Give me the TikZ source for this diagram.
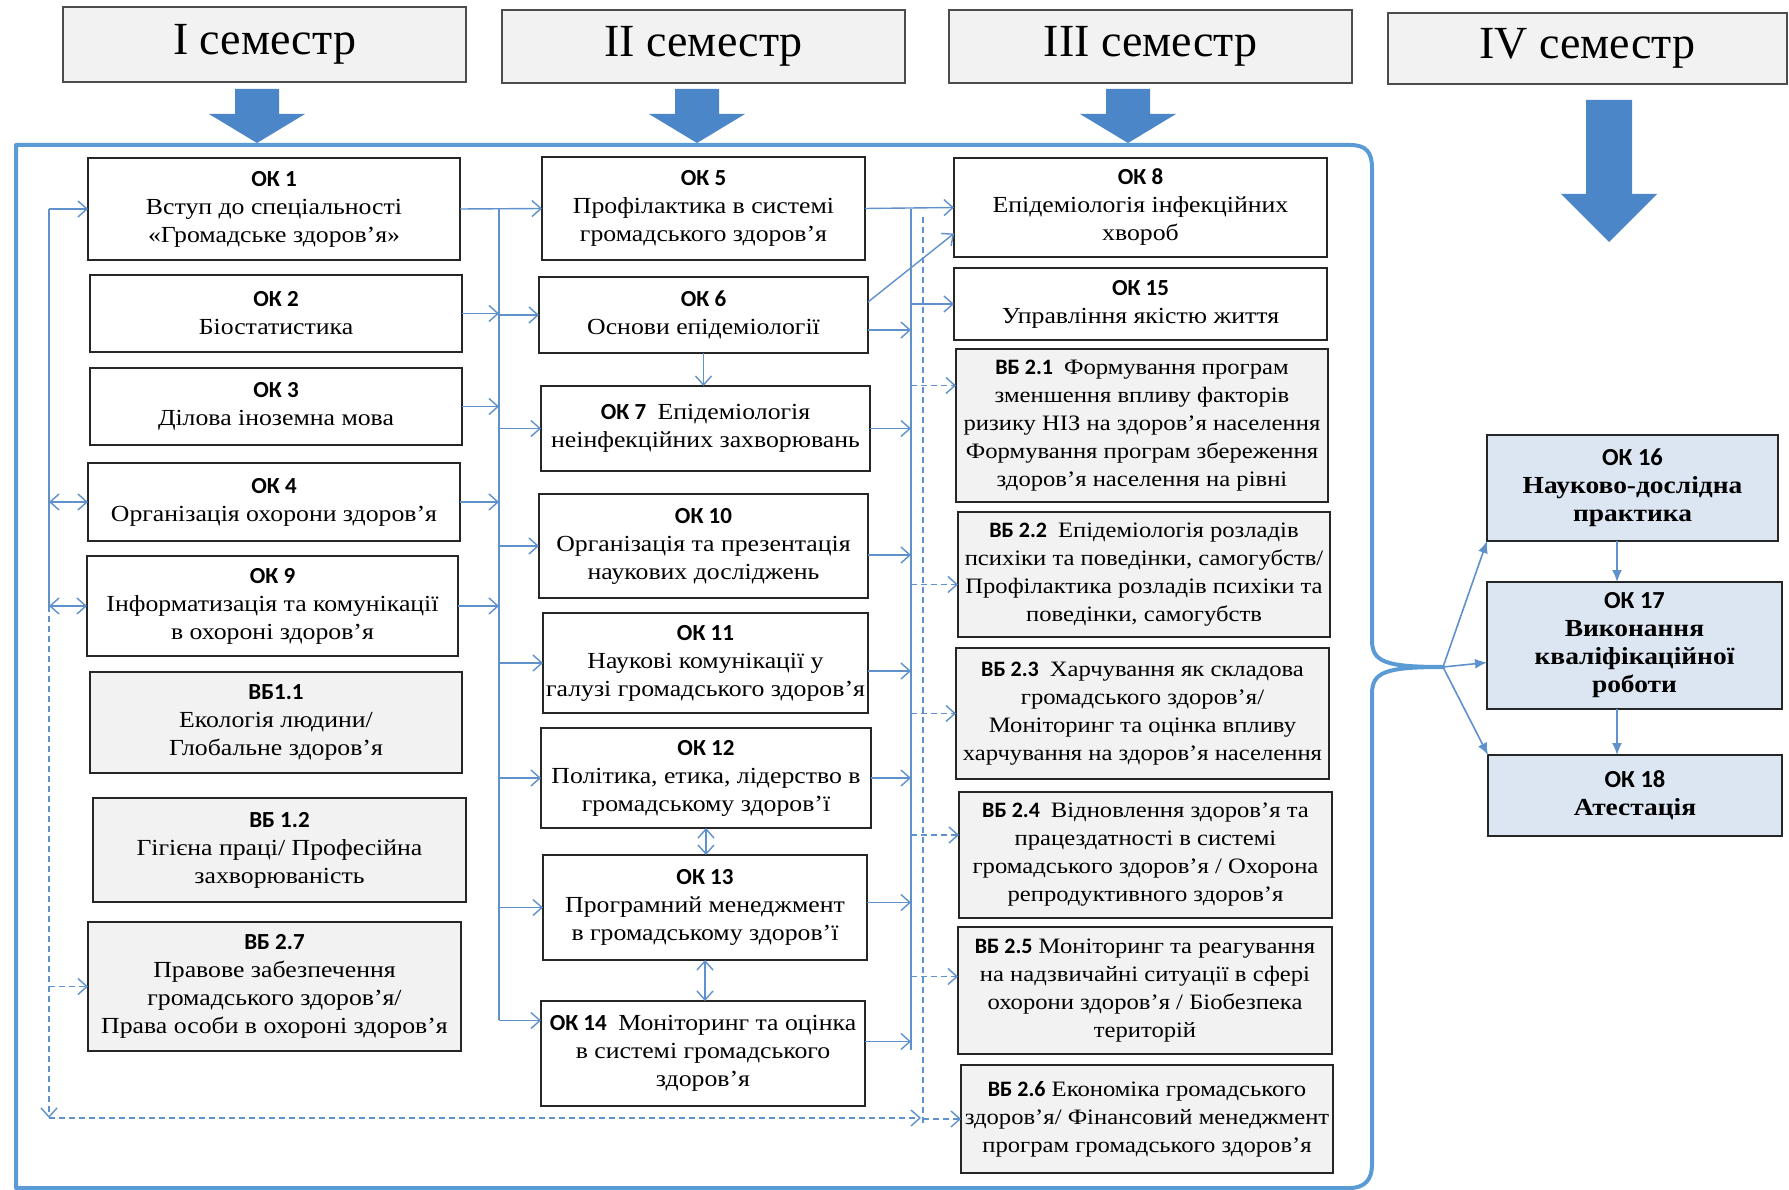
\documentclass[tikz,border=0pt]{standalone}
\usepackage{fontspec}
\setmainfont[FakeStretch=1.12]{Liberation Serif}
\newfontfamily\hdrfont{Liberation Serif}
\newfontfamily\lblfont{Carlito}
\usetikzlibrary{arrows.meta}
\definecolor{conn}{RGB}{95,145,205}
\definecolor{blk}{RGB}{74,134,200}
\definecolor{framec}{RGB}{91,155,213}
\definecolor{vbfill}{RGB}{242,242,242}
\definecolor{bluefill}{RGB}{220,230,242}
\definecolor{hdrfill}{RGB}{242,242,242}
\newcommand\lb[1]{{\lblfont\bfseries #1}}
\newcommand\bx[7]{\node[#1, minimum width={(#4-#2)*1pt}, minimum height={(#5-#3)*1pt}] (#6) at (#2,#3) {#7};}
\newcommand\barr[6]{\fill[blk] ({#1-#5},#2) -- ({#1+#5},#2) -- ({#1+#5},#3) -- ({#1+#6},#3) -- (#1,#4) -- ({#1-#6},#3) -- ({#1-#5},#3) -- cycle;}
\begin{document}
\begin{tikzpicture}[x=1pt,y=-1pt,
  box/.style={draw=black!85, line width=1.6pt, inner sep=0pt, outer sep=0pt, align=center, font=\fontsize{23}{28}\selectfont, anchor=north west},
  okbox/.style={box, fill=white},
  vbbox/.style={box, fill=vbfill},
  vbbox3/.style={box, fill=vbfill, font=\fontsize{22}{28}\selectfont},
  rbox/.style={box, fill=bluefill, font=\fontsize{24.5}{28}\selectfont\bfseries},
  hdr/.style={draw=black!70, line width=1.2pt, fill=hdrfill, inner sep=0pt, outer sep=0pt, anchor=north west, font=\hdrfont\fontsize{46}{50}\selectfont},
  cn/.style={draw=conn, line width=1.4pt},
  arr/.style={cn, -{Straight Barb[length=9pt,width=16pt]}},
  darr/.style={arr, dash pattern=on 6pt off 4pt},
  dln/.style={cn, dash pattern=on 6pt off 4pt},
  barr2/.style={cn, {Straight Barb[length=9pt,width=16pt]}-{Straight Barb[length=9pt,width=16pt]}},
  rarr/.style={draw=conn, line width=1.6pt, -{Latex[length=12pt,width=10pt]}}
]
\useasboundingbox (0,0) rectangle (1789,1190);
\fill[white] (0,0) rectangle (1789,1190);

% headers
\bx{hdr}{63}{7}{466}{82}{H1}{I семестр}
\bx{hdr}{502}{10}{905}{83}{H2}{II семестр}
\bx{hdr}{949}{10}{1352}{83}{H3}{III семестр}
\bx{hdr}{1388}{13}{1787}{84}{H4}{IV семестр}

% block arrows
\barr{257}{89}{114}{143}{22}{48}
\barr{697}{89}{114}{143}{22}{48}
\barr{1128}{89}{114}{143}{22}{48}
\barr{1609}{100}{194}{242}{23}{48}

% container with brace
\draw[draw=framec, line width=4pt, line join=round]
  (16,145) -- (1350,145) .. controls (1366,145) and (1372,152) .. (1372,168)
  -- (1372,640) .. controls (1372,662) and (1385,667) .. (1443,667)
  .. controls (1385,667) and (1372,672) .. (1372,694)
  -- (1372,1165) .. controls (1372,1180) and (1364,1188) .. (1350,1188)
  -- (16,1188) -- cycle;
\coordinate (bt) at (1443,667);

% column 1
\bx{okbox}{88}{158}{460}{260}{OK1}{\lb{ОК 1}\\Вступ до спеціальності\\«Громадське здоров’я»}
\bx{okbox}{90}{275}{462}{352}{OK2}{\lb{ОК 2}\\Біостатистика}
\bx{okbox}{90}{368}{462}{445}{OK3}{\lb{ОК 3}\\Ділова іноземна мова}
\bx{okbox}{88}{463}{460}{541}{OK4}{\lb{ОК 4}\\Організація охорони здоров’я}
\bx{okbox}{87}{556}{458}{656}{OK9}{\lb{ОК 9}\\Інформатизація та комунікації\\в охороні здоров’я}
\bx{vbbox}{90}{672}{462}{773}{VB11}{\lb{ВБ1.1}\\Екологія людини/\\Глобальне здоров’я}
\bx{vbbox}{93}{798}{466}{902}{VB12}{\lb{ВБ 1.2}\\Гігієна праці/ Професійна\\захворюваність}
\bx{vbbox}{88}{922}{461}{1051}{VB27}{\lb{ВБ 2.7}\\Правове забезпечення\\громадського здоров’я/\\Права особи в охороні здоров'я}

% column 2
\bx{okbox}{542}{157}{865}{260}{OK5}{\lb{ОК 5}\\Профілактика в системі\\громадського здоров’я}
\bx{okbox}{539}{277}{868}{353}{OK6}{\lb{ОК 6}\\Основи епідеміології}
\bx{okbox}{541}{386}{870}{471}{OK7}{\lb{ОК 7}\enspace Епідеміологія\\неінфекційних захворювань}
\bx{okbox}{539}{494}{868}{598}{OK10}{\lb{ОК 10}\\Організація та презентація\\наукових досліджень}
\bx{okbox}{543}{613}{868}{713}{OK11}{\lb{ОК 11}\\Наукові комунікації у\\галузі громадського здоров’я}
\bx{okbox}{541}{728}{871}{828}{OK12}{\lb{ОК 12}\\Політика, етика, лідерство в\\громадському здоров’ї}
\bx{okbox}{543}{855}{867}{960}{OK13}{\lb{ОК 13}\\Програмний менеджмент\\в громадському здоров’ї}
\bx{okbox}{541}{1001}{865}{1106}{OK14}{\lb{ОК 14}\enspace Моніторинг та оцінка\\в системі громадського\\здоров’я}

% column 3
\bx{okbox}{954}{158}{1327}{257}{OK8}{\lb{ОК 8}\\Епідеміологія інфекційних\\хвороб}
\bx{okbox}{954}{268}{1327}{340}{OK15}{\lb{ОК 15}\\Управління якістю життя}
\bx{vbbox3}{956}{349}{1328}{502}{VB21}{\lb{ВБ 2.1}\enspace Формування програм\\зменшення впливу факторів\\ризику НІЗ на здоров’я населення\\Формування програм збереження\\здоров’я населення на рівні}
\bx{vbbox3}{958}{512}{1330}{637}{VB22}{\lb{ВБ 2.2}\enspace Епідеміологія розладів\\психіки та поведінки, самогубств/\\Профілактика розладів психіки та\\поведінки, самогубств}
\bx{vbbox3}{956}{648}{1329}{779}{VB23}{\lb{ВБ 2.3}\enspace Харчування як складова\\громадського здоров’я/\\Моніторинг та оцінка впливу\\харчування на здоров’я населення}
\bx{vbbox3}{959}{792}{1332}{918}{VB24}{\lb{ВБ 2.4}\enspace Відновлення здоров’я та\\працездатності в системі\\громадського здоров’я / Охорона\\репродуктивного здоров'я}
\bx{vbbox3}{958}{927}{1332}{1054}{VB25}{\lb{ВБ 2.5} Моніторинг та реагування\\на надзвичайні ситуації в сфері\\охорони здоров’я / Біобезпека\\територій}
\bx{vbbox3}{961}{1065}{1333}{1173}{VB26}{\lb{ВБ 2.6} Економіка громадського\\здоров’я/ Фінансовий менеджмент\\програм громадського здоров'я}

% column 4
\bx{rbox}{1487}{435}{1778}{541}{OK16}{\lb{ОК 16}\\Науково-дослідна\\практика}
\bx{rbox}{1487}{582}{1782}{709}{OK17}{\lb{ОК 17}\\Виконання\\кваліфікаційної\\роботи}
\bx{rbox}{1488}{755}{1782}{836}{OK18}{\lb{ОК 18}\\Атестація}

% right arrows
\draw[rarr] (bt) -- (OK16.south west);
\coordinate (ok17in) at ([yshift=-17pt]OK17.west);
\draw[rarr] (bt) -- (ok17in);
\draw[rarr] (bt) -- (OK18.north west);
\draw[rarr] (OK16.south -| 1617,0) -- (OK17.north -| 1617,0);
\draw[rarr] (OK17.south -| 1617,0) -- (OK18.north -| 1617,0);

% left bus
\coordinate (L1) at (49,209);
\coordinate (Lb) at (49,1118);
\draw[cn] (L1) -- (OK9.west -| L1);
\draw[arr] (L1) -- (OK1.west);
\draw[barr2] (OK4.west -| L1) -- (OK4.west);
\draw[barr2] (OK9.west -| L1) -- (OK9.west);
\draw[darr] (OK9.west -| L1) -- (Lb);
\draw[darr] (VB27.west -| L1) -- (VB27.west);

% bus 1 (col1 -> col2)
\coordinate (B1t) at (499,209);
\coordinate (B1b) at (499,1020);
\draw[cn] (B1t) -- (B1b);
\draw[arr] (OK1.east) -- (OK5.west);
\draw[arr] (OK2.east) -- (OK2.east -| B1b);
\draw[arr] (OK3.east) -- (OK3.east -| B1b);
\draw[arr] (OK4.east) -- (OK4.east -| B1b);
\draw[arr] (OK9.east) -- (OK9.east -| B1b);
\draw[arr] (OK6.west -| B1b) -- (OK6.west);
\draw[arr] (OK7.west -| B1b) -- (OK7.west);
\draw[arr] (OK10.west -| B1b) -- (OK10.west);
\draw[arr] (OK11.west -| B1b) -- (OK11.west);
\draw[arr] (OK12.west -| B1b) -- (OK12.west);
\draw[arr] (OK13.west -| B1b) -- (OK13.west);
\coordinate (ok14in) at ([yshift=33pt]OK14.west);
\draw[arr] (ok14in -| B1b) -- (ok14in);

% column 2 internal
\draw[arr] (OK6.south) -- (OK6.south |- OK7.north);
\draw[barr2] (OK12.south) -- (OK12.south |- OK13.north);
\draw[barr2] (OK13.south) -- (OK13.south |- OK14.north);

% bus 2 (col2 -> col3)
\coordinate (B2t) at (911,209);
\coordinate (B2b) at (911,1050);
\draw[cn] (B2t) -- (B2b);
\coordinate (D1) at (923,217);
\coordinate (D2) at (923,1125);
\draw[dln] (D1) -- (D2);
\draw[arr] (OK5.east) -- (OK8.west);
\coordinate (ok6a) at ([yshift=13pt]OK6.east);
\coordinate (ok8b) at ([yshift=-26pt]OK8.west);
\draw[arr] (ok6a) -- (ok8b);
\coordinate (ok6b) at ([yshift=-15pt]OK6.east);
\draw[arr] (ok6b) -- (ok6b -| B2b);
\draw[arr] (OK15.west -| B2b) -- (OK15.west);
\draw[arr] (OK7.east) -- (OK7.east -| B2b);
\coordinate (ok10b) at ([yshift=-9pt]OK10.east);
\draw[arr] (ok10b) -- (ok10b -| B2b);
\coordinate (ok11b) at ([yshift=-8pt]OK11.east);
\draw[arr] (ok11b) -- (ok11b -| B2b);
\draw[arr] (OK12.east) -- (OK12.east -| B2b);
\coordinate (ok13b) at ([yshift=5pt]OK13.east);
\draw[arr] (ok13b) -- (ok13b -| B2b);
\coordinate (ok14b) at ([yshift=12pt]OK14.east);
\draw[arr] (ok14b) -- (ok14b -| B2b);

% dashed into VB boxes
\coordinate (v21) at ([yshift=40pt]VB21.west);
\draw[darr] (v21 -| B2b) -- (v21);
\coordinate (v22) at ([yshift=-10pt]VB22.west);
\draw[darr] (v22 -| B2b) -- (v22);
\draw[darr] (VB23.west -| B2b) -- (VB23.west);
\coordinate (v24) at ([yshift=20pt]VB24.west);
\draw[darr] (v24 -| B2b) -- (v24);
\coordinate (v25) at ([yshift=14pt]VB25.west);
\draw[darr] (v25 -| B2b) -- (v25);
\coordinate (Db) at (921,1118);
\draw[darr] (Lb) -- (Db);
\draw[darr] (VB26.west -| D2) -- (VB26.west);
\end{tikzpicture}
\end{document}
